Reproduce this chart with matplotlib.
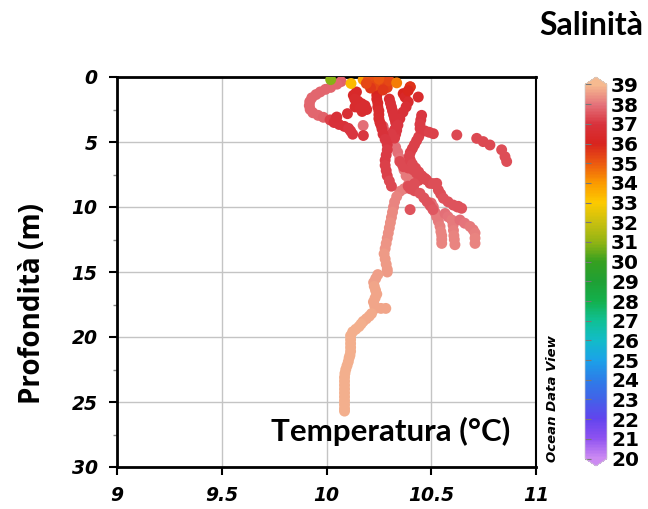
import matplotlib
matplotlib.use("Agg")
import matplotlib.pyplot as plt
from matplotlib.colors import LinearSegmentedColormap, Normalize

# ---------------- data (temperature °C, depth m, salinity) ----------------
# deep cast
temp_c1 = [10.27, 10.28, 10.30, 10.31, 10.33, 10.34, 10.35, 10.36, 10.37, 10.38,
           10.40, 10.39, 10.37, 10.35, 10.335, 10.325, 10.32, 10.315, 10.31, 10.305,
           10.30, 10.295, 10.29, 10.285, 10.28, 10.275, 10.28, 10.285, 10.29, 10.29,
           10.245, 10.235, 10.225, 10.228, 10.234, 10.24, 10.232, 10.224, 10.23, 10.234,
           10.26, 10.283, 10.215, 10.204, 10.19, 10.175, 10.165, 10.155, 10.14, 10.125,
           10.115, 10.115, 10.115, 10.115, 10.115, 10.112, 10.108, 10.104, 10.098, 10.092,
           10.088, 10.086, 10.086, 10.086, 10.086, 10.086, 10.086, 10.086, 10.086, 10.086,
           10.086]
depth_c1 = [3.8, 4.2, 4.6, 5.0, 5.4, 5.8, 6.25, 6.7, 7.15, 7.6,
            7.9, 8.3, 8.6, 8.8, 9.2, 9.6, 10.0, 10.4, 10.8, 11.2,
            11.6, 12.0, 12.4, 12.8, 13.2, 13.6, 14.0, 14.4, 14.8, 15.0,
            15.2, 15.5, 15.8, 16.1, 16.4, 16.7, 17.0, 17.3, 17.6, 17.8,
            17.8, 17.8, 18.2, 18.4, 18.6, 18.8, 19.0, 19.2, 19.4, 19.6,
            19.9, 20.2, 20.5, 20.8, 21.1, 21.4, 21.6, 21.9, 22.2, 22.5,
            22.8, 23.1, 23.4, 23.7, 24.0, 24.3, 24.6, 24.9, 25.2, 25.5,
            25.7]
sal_c1 = [37.6, 37.7, 37.8, 37.85, 37.9, 37.95, 38.0, 38.0, 38.05, 38.1,
          38.1, 38.1, 38.15, 38.15, 38.2, 38.2, 38.25, 38.3, 38.3, 38.35,
          38.35, 38.4, 38.4, 38.45, 38.45, 38.5, 38.5, 38.5, 38.55, 38.55,
          38.6, 38.6, 38.6, 38.65, 38.65, 38.65, 38.7, 38.7, 38.7, 38.7,
          38.7, 38.7, 38.75, 38.75, 38.75, 38.75, 38.8, 38.8, 38.8, 38.8,
          38.8, 38.8, 38.85, 38.85, 38.85, 38.85, 38.85, 38.85, 38.85, 38.85,
          38.85, 38.85, 38.85, 38.85, 38.85, 38.85, 38.85, 38.85, 38.85, 38.85,
          38.85]

# central column cast
temp_c2 = [10.25, 10.245, 10.24, 10.24, 10.24, 10.24, 10.245, 10.245, 10.25, 10.25,
           10.25, 10.255, 10.26, 10.265, 10.27, 10.28, 10.29, 10.29, 10.285, 10.28,
           10.28, 10.285, 10.29, 10.30, 10.31]
depth_c2 = [0.3, 0.55, 0.8, 1.1, 1.4, 1.7, 2.0, 2.3, 2.6, 2.9,
            3.2, 3.5, 3.7, 4.0, 4.4, 4.8, 5.2, 5.6, 6.0, 6.4,
            6.8, 7.2, 7.6, 8.0, 8.4]
sal_c2 = [35.2, 35.4, 35.6, 35.8, 36.0, 36.2, 36.3, 36.4, 36.5, 36.5,
          36.6, 36.6, 36.7, 36.8, 36.9, 37.0, 37.0, 37.1, 37.1, 37.1,
          37.2, 37.2, 37.2, 37.3, 37.3]

# surface samples
temp_surf = [10.02, 10.117, 10.175, 10.20, 10.22, 10.23, 10.26, 10.28, 10.29, 10.27,
             10.21, 10.30, 10.335, 10.40, 10.39, 10.19, 10.25]
depth_surf = [0.2, 0.5, 0.2, 0.2, 0.35, 0.65, 0.25, 0.45, 0.8, 1.0,
              0.85, 0.3, 0.45, 0.75, 1.05, 0.5, 0.15]
sal_surf = [30.9, 33.3, 33.9, 35.0, 35.2, 35.3, 35.1, 35.3, 35.5, 35.6,
            35.6, 35.3, 34.4, 35.7, 35.9, 35.3, 35.0]

# left loop cast
temp_c3 = [10.07, 10.05, 10.02, 9.995, 9.97, 9.95, 9.93, 9.92, 9.918, 9.922,
           9.935, 9.96, 9.985, 10.017, 10.046, 10.036, 10.06, 10.085, 10.105, 10.115,
           10.125]
depth_c3 = [0.35, 0.55, 0.8, 0.95, 1.15, 1.35, 1.6, 1.9, 2.2, 2.5,
            2.75, 2.95, 3.1, 3.3, 3.15, 3.5, 3.65, 3.8, 3.95, 4.15,
            4.4]
sal_c3 = [37.7, 37.75, 37.8, 37.8, 37.8, 37.8, 37.8, 37.8, 37.8, 37.8,
          37.8, 37.75, 37.7, 37.2, 36.9, 36.9, 36.9, 36.9, 37.0, 37.0,
          37.0]

# dark red cluster
temp_c4 = [10.143, 10.128, 10.135, 10.15, 10.168, 10.145, 10.136, 10.16, 10.184, 10.192,
           10.17, 10.10, 10.175, 10.176, 10.049]
depth_c4 = [1.15, 1.41, 1.7, 1.85, 2.05, 2.1, 2.3, 2.4, 2.2, 2.5,
            2.65, 2.82, 3.73, 4.5, 3.08]
sal_c4 = [36.4, 36.4, 36.5, 36.5, 36.5, 36.5, 36.5, 36.6, 36.6, 36.6,
          36.6, 36.7, 37.9, 37.0, 36.8]

# chains right of the column
temp_c5a = [10.30, 10.305, 10.31, 10.315, 10.32, 10.325, 10.33, 10.335, 10.335, 10.33, 10.325]
depth_c5a = [1.7, 2.0, 2.3, 2.6, 2.9, 3.2, 3.5, 3.8, 4.1, 4.4, 4.7]
sal_c5a = [36.6, 36.7, 36.8, 36.8, 36.9, 36.9, 36.9, 37.0, 37.0, 37.0, 37.1]

temp_c5b = [10.399, 10.366, 10.375, 10.39, 10.38, 10.365, 10.35, 10.341, 10.325, 10.31, 10.294]
depth_c5b = [0.77, 1.28, 1.55, 1.92, 2.3, 2.7, 3.2, 3.7, 4.05, 4.4, 4.77]
sal_c5b = [35.7, 36.0, 36.3, 36.5, 36.7, 36.8, 36.9, 37.0, 37.0, 37.1, 37.1]

temp_c5c = [10.438, 10.454, 10.45, 10.446, 10.447, 10.47, 10.49, 10.51, 10.622, 10.717,
            10.748, 10.78, 10.836, 10.852, 10.86]
depth_c5c = [1.54, 2.95, 3.3, 3.65, 3.97, 4.15, 4.25, 4.36, 4.46, 4.72,
             4.97, 5.23, 5.6, 6.13, 6.5]
sal_c5c = [36.5, 37.0, 37.0, 37.1, 37.1, 37.1, 37.2, 37.2, 37.3, 37.3,
           37.3, 37.3, 37.4, 37.4, 37.4]

# crimson diagonals 5-10 m
temp_c6 = [10.44, 10.43, 10.42, 10.41, 10.40, 10.395, 10.40, 10.41, 10.425, 10.44,
           10.455, 10.47, 10.478, 10.494, 10.51, 10.526, 10.534, 10.545, 10.558, 10.58,
           10.605, 10.625, 10.645]
depth_c6 = [4.6, 4.9, 5.2, 5.5, 5.8, 6.1, 6.4, 6.7, 7.0, 7.3,
            7.6, 7.8, 7.92, 8.18, 8.2, 8.18, 8.7, 9.0, 9.33, 9.6,
            9.85, 10.0, 10.1]
sal_c6 = [37.2, 37.2, 37.2, 37.2, 37.2, 37.25, 37.25, 37.3, 37.3, 37.3,
          37.3, 37.35, 37.35, 37.35, 37.4, 37.4, 37.4, 37.4, 37.45, 37.45,
          37.45, 37.5, 37.5]

temp_c7 = [10.35, 10.367, 10.39, 10.415, 10.43, 10.446, 10.44, 10.42, 10.39, 10.40,
           10.42, 10.446, 10.465, 10.48, 10.495, 10.508, 10.399, 10.629]
depth_c7 = [6.5, 6.9, 7.0, 7.15, 7.4, 7.67, 7.95, 8.2, 8.4, 8.6,
            8.75, 8.95, 9.3, 9.6, 9.9, 10.2, 10.2, 9.95]
sal_c7 = [37.3, 37.3, 37.3, 37.3, 37.35, 37.35, 37.35, 37.4, 37.4, 37.4,
          37.4, 37.45, 37.45, 37.5, 37.5, 37.55, 37.5, 37.4]

# lighter lower-right branches
temp_c8 = [10.50, 10.51, 10.518, 10.526, 10.534, 10.542, 10.546, 10.55, 10.55, 10.55]
depth_c8 = [9.7, 10.0, 10.4, 10.75, 11.1, 11.5, 11.9, 12.2, 12.5, 12.8]
sal_c8 = [37.8, 37.9, 38.0, 38.05, 38.1, 38.15, 38.2, 38.2, 38.25, 38.25]

temp_c9 = [10.566, 10.58, 10.598, 10.604, 10.606, 10.608, 10.61, 10.613]
depth_c9 = [10.5, 10.75, 11.0, 11.4, 11.8, 12.2, 12.5, 12.9]
sal_c9 = [37.9, 38.0, 38.05, 38.1, 38.15, 38.2, 38.2, 38.25]

temp_c10 = [10.637, 10.66, 10.685, 10.70, 10.709, 10.709, 10.709]
depth_c10 = [11.0, 11.25, 11.5, 11.75, 12.0, 12.4, 12.8]
sal_c10 = [37.9, 38.0, 38.05, 38.1, 38.15, 38.2, 38.2]

# colour scale (ODV-like rainbow)
cbar_levels = [20, 21, 22, 23, 24, 25, 26, 27, 28, 29, 30, 31, 32, 33, 34, 35, 36, 37, 38, 39]
cbar_colors = ["#cc8af2", "#8e52f0", "#6244ee", "#4262e8", "#2c7ee8", "#1ba2e8",
               "#12bcc8", "#10c094", "#13b04c", "#1fa034", "#36a020", "#92b414",
               "#c8c010", "#fdca00", "#fb9a00", "#ec5a10", "#d8241e", "#d8323c",
               "#e4727a", "#f6ba90"]

xticks = [9, 9.5, 10, 10.5, 11]
xticklabels = ["9", "9.5", "10", "10.5", "11"]
yticks = [0, 5, 10, 15, 20, 25, 30]

# ---------------- figure ----------------
W, H = 648, 509
fig = plt.figure(figsize=(W / 100, H / 100), dpi=100)

def fx(px):
    return px / W

def fy(py):
    return 1 - py / H

ax = fig.add_axes([fx(117), fy(467), fx(536) - fx(117), fy(77) - fy(467)])

cmap = LinearSegmentedColormap.from_list(
    "odv", [((v - 20) / 19, c) for v, c in zip(cbar_levels, cbar_colors)])
cmap.set_over(cbar_colors[-1])
cmap.set_under(cbar_colors[0])
norm = Normalize(vmin=20, vmax=39)

casts = [
    (temp_c3, depth_c3, sal_c3),
    (temp_c4, depth_c4, sal_c4),
    (temp_c1, depth_c1, sal_c1),
    (temp_c8, depth_c8, sal_c8),
    (temp_c9, depth_c9, sal_c9),
    (temp_c10, depth_c10, sal_c10),
    (temp_c7, depth_c7, sal_c7),
    (temp_c6, depth_c6, sal_c6),
    (temp_c5c, depth_c5c, sal_c5c),
    (temp_c5a, depth_c5a, sal_c5a),
    (temp_c5b, depth_c5b, sal_c5b),
    (temp_c2, depth_c2, sal_c2),
    (temp_surf, depth_surf, sal_surf),
]
for t, d, s in casts:
    sc = ax.scatter(t, d, c=s, cmap=cmap, norm=norm, s=62, linewidths=0, zorder=3)

ax.set_xlim(9, 11)
ax.set_ylim(30, 0)
ax.set_xticks(xticks)
ax.set_xticklabels(xticklabels)
ax.set_yticks(yticks)
ax.set_yticks([2.5, 7.5, 12.5, 17.5, 22.5, 27.5], minor=True)
ax.grid(True, which="major", color="#c4c4c4", linewidth=1.0, zorder=0)
ax.set_axisbelow(True)

for side in ["left", "top", "bottom"]:
    ax.spines[side].set_linewidth(2.0)
ax.spines["right"].set_linewidth(1.5)
for sp in ax.spines.values():
    sp.set_color("black")

ax.tick_params(axis="both", which="major", direction="out", length=6, width=1.5,
               color="black", pad=8)
ax.tick_params(axis="y", which="minor", direction="out", length=3, width=1.0,
               color="#888888")
ax.tick_params(axis="x", top=False)
for lab in ax.get_xticklabels() + ax.get_yticklabels():
    lab.set_fontfamily("DejaVu Sans")
    lab.set_fontweight("bold")
    lab.set_fontstyle("italic")
    lab.set_fontsize(13.5)

# colour bar
cax = fig.add_axes([fx(585), fy(466), fx(607) - fx(585), fy(77) - fy(466)])
cb = fig.colorbar(sc, cax=cax, extend="both", extendfrac=0.02, ticks=cbar_levels)
cb.outline.set_edgecolor("#cccccc")
cb.outline.set_linewidth(0.5)
cax.yaxis.set_ticks_position("left")
cax.tick_params(axis="y", which="major", left=True, right=False, labelleft=False,
                labelright=True, direction="in", length=4, width=0.8,
                color="#777777", pad=3)
cax.tick_params(axis="y", which="minor", left=False, right=False)
for t in cax.yaxis.get_major_ticks():
    t.label2.set_visible(True)
    t.label1.set_visible(False)
    t.label2.set_fontfamily("DejaVu Sans")
    t.label2.set_fontweight("bold")
    t.label2.set_fontsize(14.5)

# texts
fig.text(fx(643), fy(35), "Salinità", ha="right", va="baseline",
         family="Lato", weight="bold", fontsize=23)
fig.text(fx(510), fy(441), "Temperatura (°C)", ha="right", va="baseline",
         family="Lato", weight="bold", fontsize=22.5)
fig.text(fx(33), fy(303), "Profondità (m)", ha="center", va="center", rotation=90,
         family="Open Sans", weight="bold", fontsize=20)
fig.text(fx(553), fy(399), "Ocean Data View", ha="center", va="center", rotation=90,
         family="DejaVu Sans", weight="bold", style="italic", fontsize=9.5)

fig.savefig("out.png", dpi=100)
